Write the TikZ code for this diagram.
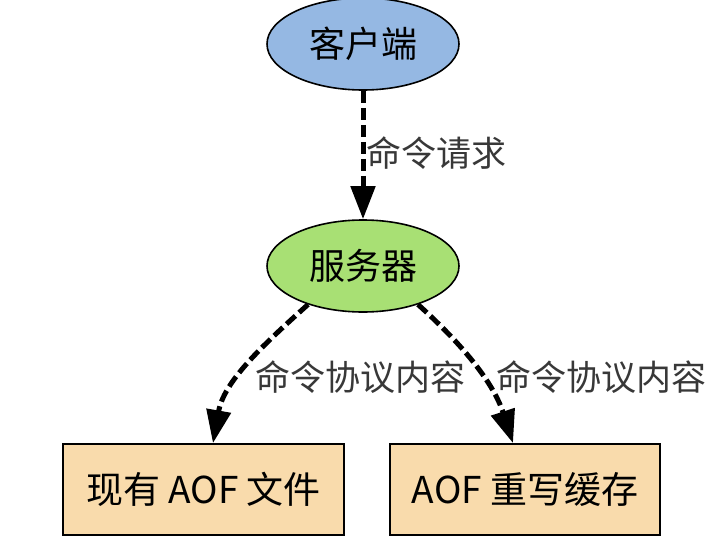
\documentclass[tikz,border=0pt]{standalone}
\usepackage{fontspec}
\setmainfont{Noto Sans CJK SC}
\usetikzlibrary{shapes.geometric,arrows.meta}
\definecolor{clientblue}{HTML}{95B8E3}
\definecolor{servergreen}{HTML}{A8E074}
\definecolor{boxorange}{HTML}{F9DBAC}
\tikzset{
  ell/.style={ellipse, draw=black, line width=1.6pt, minimum width=192pt, minimum height=92pt, inner sep=0pt, font=\fontsize{36}{40}\selectfont},
  boxnode/.style={rectangle, draw=black, line width=1.8pt, fill=boxorange, minimum height=91pt, inner sep=0pt, font=\fontsize{37}{40}\selectfont},
  lbl/.style={inner sep=0pt, font=\fontsize{35}{38}\selectfont, text=black!78},
  flow/.style={line width=5pt, dash pattern=on 12pt off 5pt, -{Triangle[length=33pt,width=24pt]}}
}
\begin{document}
\begin{tikzpicture}[x=1pt,y=-1pt]
\useasboundingbox (0,0) rectangle (720,543);
\node[ell, fill=clientblue] (client) at (363,44) {客户端};
\node[ell, fill=servergreen] (server) at (363,266) {服务器};
\node[boxnode, minimum width=281pt] (file) at (203.5,489.5) {现有 AOF 文件};
\node[boxnode, minimum width=270pt] (buf) at (525,489.5) {AOF 重写缓存};
\coordinate (fileIn) at ([xshift=9.5pt]file.north);
\coordinate (bufIn) at ([xshift=-12pt]buf.north);
\draw[flow] (client) -- (server);
\draw[flow] (server.215) to[out=222, in=80, looseness=0.95] (fileIn);
\draw[flow] (server.325) to[out=-42, in=108, looseness=0.95] (bufIn);
\node[lbl, anchor=west] (l1) at (366,153) {命令请求};
\node[lbl, anchor=west] (l2) at (255,377) {命令协议内容};
\node[lbl, anchor=west] (l3) at (496,377) {命令协议内容};
\end{tikzpicture}
\end{document}
